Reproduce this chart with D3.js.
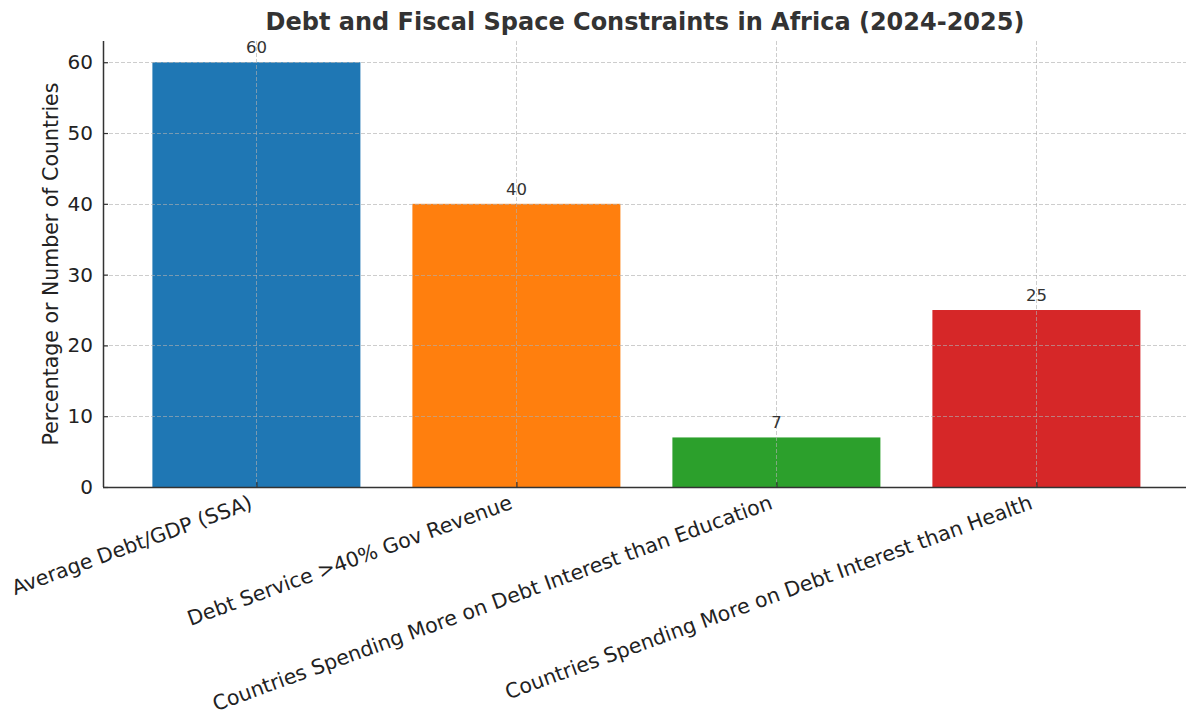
<!DOCTYPE html>
<html>
<head>
<meta charset="utf-8">
<script src="https://cdn.jsdelivr.net/npm/d3@7"></script>
<style>
  html, body { margin: 0; padding: 0; background: #fff; }
  svg { display: block; font-family: "DejaVu Sans", sans-serif; }
</style>
</head>
<body>
<svg id="chart" width="1186" height="711"></svg>
<script>
const categories = [
  "Average Debt/GDP (SSA)",
  "Debt Service >40% Gov Revenue",
  "Countries Spending More on Debt Interest than Education",
  "Countries Spending More on Debt Interest than Health"
];
const values = [60, 40, 7, 25];
const colors = ["#1f77b4", "#ff7f0e", "#2ca02c", "#d62728"];
const yTicks = [0, 10, 20, 30, 40, 50, 60];
const title = "Debt and Fiscal Space Constraints in Africa (2024-2025)";
const yLabel = "Percentage or Number of Countries";

(function () {
const W = 1186, H = 711;
const mLeft = 103, mTop = 41, mBottom = 487;
const svg = d3.select("#chart");

// x: linear index scale, matplotlib-like margins
const x = d3.scaleLinear().domain([-0.59, 3.59]).range([mLeft, mLeft + 260 * 4.18]);
const y = d3.scaleLinear().domain([0, 63]).range([mBottom, mTop]);
const barW = x(0.8) - x(0);

// bars
svg.append("g").selectAll("rect").data(values).join("rect")
  .attr("x", (d, i) => x(i - 0.4))
  .attr("width", barW)
  .attr("y", d => y(d))
  .attr("height", d => y(0) - y(d))
  .attr("fill", (d, i) => colors[i]);

// grid (on top of bars)
const grid = svg.append("g")
  .attr("stroke", "#b0b0b0").attr("stroke-opacity", 0.7)
  .attr("stroke-width", 0.9).attr("stroke-dasharray", "4,2");
grid.selectAll("line.h").data(yTicks).join("line").attr("class", "h")
  .attr("x1", mLeft).attr("x2", W)
  .attr("y1", d => Math.round(y(d)) + 0.5).attr("y2", d => Math.round(y(d)) + 0.5);
grid.selectAll("line.v").data(values).join("line").attr("class", "v")
  .attr("x1", (d, i) => Math.round(x(i)) + 0.5).attr("x2", (d, i) => Math.round(x(i)) + 0.5)
  .attr("y1", mTop).attr("y2", mBottom);

// y axis
const yAxis = d3.axisLeft(y).tickValues(yTicks).tickSize(-5).tickPadding(10);
const gy = svg.append("g").attr("transform", `translate(${mLeft},0)`).call(yAxis);
gy.select(".domain").attr("stroke", "#333").attr("stroke-width", 1.5).attr("d", `M0.5,${mTop}V${mBottom}`);
gy.selectAll(".tick line").attr("stroke", "#333").attr("stroke-width", 1.2);
gy.selectAll(".tick text").attr("font-size", 20).attr("fill", "#222").attr("font-family", "DejaVu Sans");

// x axis
const xAxis = d3.axisBottom(x).tickValues(d3.range(categories.length)).tickSize(-5).tickFormat(() => "");
const gx = svg.append("g").attr("transform", `translate(0,${mBottom})`).call(xAxis);
gx.select(".domain").attr("stroke", "#333").attr("stroke-width", 1.5).attr("d", `M${mLeft},0.5H${W}`);
gx.selectAll(".tick line").attr("stroke", "#333").attr("stroke-width", 1.2);

// x labels rotated
svg.append("g").selectAll("text").data(categories).join("text")
  .attr("transform", (d, i) => `translate(${x(i) - 8},${mBottom + 7}) rotate(-20)`)
  .attr("text-anchor", "end")
  .attr("dominant-baseline", "hanging")
  .attr("font-size", 20.5).attr("fill", "#222")
  .text(d => d);

// value labels
svg.append("g").selectAll("text").data(values).join("text")
  .attr("x", (d, i) => x(i))
  .attr("y", d => y(d) - 9)
  .attr("text-anchor", "middle")
  .attr("font-size", 16.5).attr("fill", "#333")
  .text(d => d);

// title
svg.append("text").attr("x", 645).attr("y", 30)
  .attr("text-anchor", "middle").attr("font-size", 24).attr("font-weight", "bold")
  .attr("fill", "#333").text(title);

// y label
svg.append("text")
  .attr("transform", `translate(58,${(mTop + mBottom) / 2}) rotate(-90)`)
  .attr("text-anchor", "middle").attr("font-size", 20.5).attr("fill", "#222")
  .text(yLabel);
})();
</script>
</body>
</html>
